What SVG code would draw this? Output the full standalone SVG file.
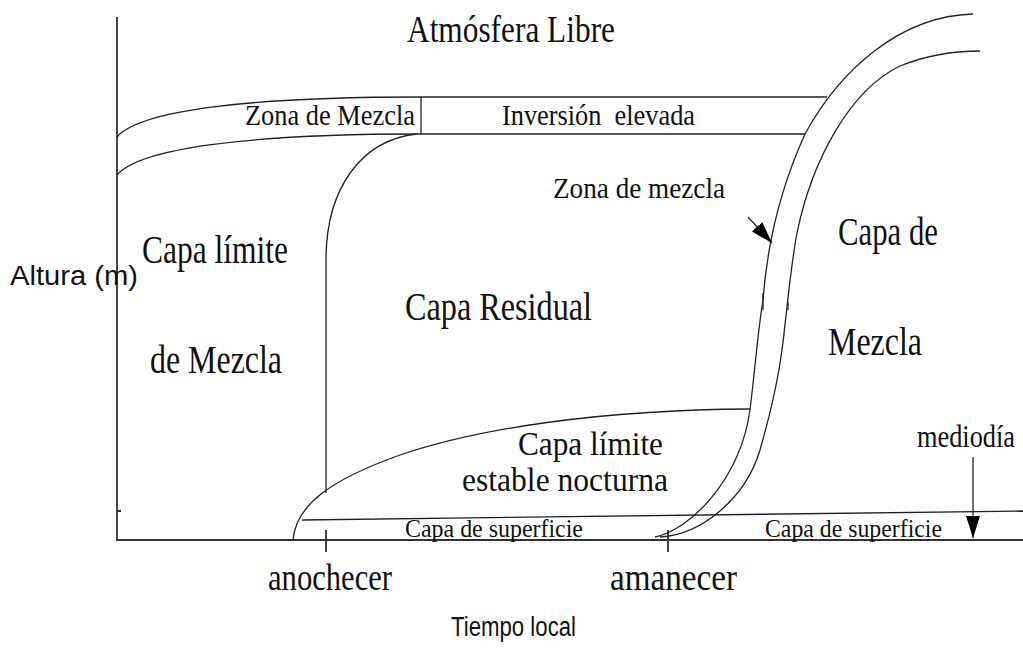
<svg xmlns="http://www.w3.org/2000/svg" width="1023" height="653" viewBox="0 0 1023 653">
<style>
.ln{fill:none;stroke:#222;stroke-width:1.3}
.ax{fill:none;stroke:#333;stroke-width:1.8}
.s{font-family:"Liberation Serif","Times New Roman",serif;fill:#111}
.ss{font-family:"Liberation Sans",Arial,sans-serif;fill:#111}
</style>
<defs>
<marker id="ah" markerUnits="userSpaceOnUse" markerWidth="24" markerHeight="14" refX="22" refY="7" orient="auto">
<path d="M0,0 L22,7 L0,14 Z" fill="#000"/>
</marker>
</defs>
<rect width="1023" height="653" fill="#fff"/>
<g id="axes">
<path class="ax" d="M117,17 L117,540 L1023,540"/>
<path class="ax" d="M326,530 L326,552 M668,530 L668,552 M117,511 L121,511"/>
</g>
<g id="connectors">
<path class="ln" d="M117,137 C140,110 250,97 420,97 L827,97"/>
<path class="ln" d="M117,175 C140,148 250,134 420,134 L805,134"/>
<path class="ln" d="M421,97 L421,134"/>
<path class="ln" d="M417,134 C360,140 326,190 326,260 L326,493"/>
<path class="ln" d="M293,540 C296,505 330,480 400,455 C480,428 600,410 750,409"/>
<path class="ln" d="M302,520 L1023,511"/>
<path class="ln" d="M655,537 C690,530 740,480 750,410 C756,360 758,330 763,300 C766,260 775,200 805,134 C840,70 900,16 973,14"/>
<path class="ln" d="M660,537 C700,535 745,500 760,450 C770,415 778,380 782,350 C786,320 790,270 797,233 C812,160 850,90 900,66 C930,54 955,51 980,51"/>
<path class="ln" stroke-width="2.2" d="M763,293 L763,310 M788,302 L788,310"/>
<path class="ln" d="M748,217 L772,243" marker-end="url(#ah)"/>
<path class="ln" d="M973,457 L973,538" marker-end="url(#ah)"/>
</g>
<g id="labels">
<text class="s" x="407" y="42" font-size="37" textLength="208" lengthAdjust="spacingAndGlyphs">Atmósfera Libre</text>
<text class="s" x="245" y="125" font-size="30" textLength="170" lengthAdjust="spacingAndGlyphs">Zona de Mezcla</text>
<text class="s" x="502" y="125" font-size="30" textLength="193" lengthAdjust="spacingAndGlyphs" style="white-space:pre">Inversión  elevada</text>
<text class="s" x="553" y="198" font-size="30" textLength="172" lengthAdjust="spacingAndGlyphs">Zona de mezcla</text>
<text class="s" x="838" y="245" font-size="39" textLength="100" lengthAdjust="spacingAndGlyphs">Capa de</text>
<text class="s" x="828" y="355" font-size="39" textLength="94" lengthAdjust="spacingAndGlyphs">Mezcla</text>
<text class="s" x="142" y="263" font-size="39" textLength="146" lengthAdjust="spacingAndGlyphs">Capa límite</text>
<text class="s" x="150" y="373" font-size="39" textLength="132" lengthAdjust="spacingAndGlyphs">de Mezcla</text>
<text class="s" x="405" y="320" font-size="39" textLength="187" lengthAdjust="spacingAndGlyphs">Capa Residual</text>
<text class="s" x="518" y="455" font-size="34" textLength="145" lengthAdjust="spacingAndGlyphs">Capa límite</text>
<text class="s" x="462" y="491" font-size="34" textLength="206" lengthAdjust="spacingAndGlyphs">estable nocturna</text>
<text class="s" x="405" y="537" font-size="25" textLength="178" lengthAdjust="spacingAndGlyphs">Capa de superficie</text>
<text class="s" x="765" y="537" font-size="25" textLength="177" lengthAdjust="spacingAndGlyphs">Capa de superficie</text>
<text class="s" x="917" y="447" font-size="31" textLength="98" lengthAdjust="spacingAndGlyphs">mediodía</text>
<text class="s" x="268" y="590" font-size="37" textLength="124" lengthAdjust="spacingAndGlyphs">anochecer</text>
<text class="s" x="610" y="590" font-size="37" textLength="127" lengthAdjust="spacingAndGlyphs">amanecer</text>
<text class="ss" x="10" y="285" font-size="27" textLength="128" lengthAdjust="spacingAndGlyphs">Altura (m)</text>
<text class="ss" x="451" y="636" font-size="27" textLength="125" lengthAdjust="spacingAndGlyphs">Tiempo local</text>
</g>
</svg>
